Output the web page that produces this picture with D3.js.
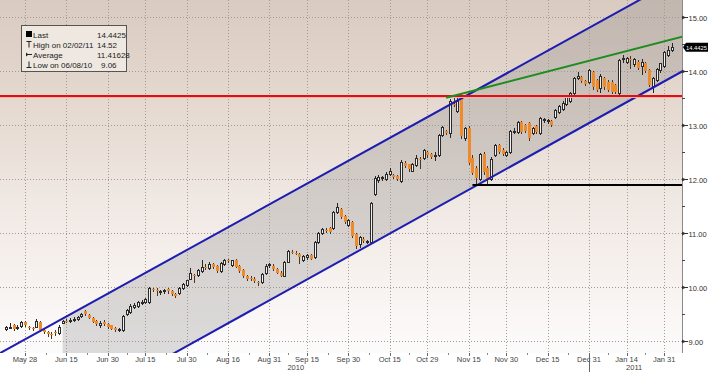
<!DOCTYPE html>
<html><head><meta charset="utf-8">
<script src="https://cdn.jsdelivr.net/npm/d3@7"></script>
<style>
body{margin:0;background:#fff;}
svg{display:block;font-family:"Liberation Sans",Arial,sans-serif;}
</style>
</head><body>
<svg id="c" width="708" height="372"></svg>
<script>
// ---------------- DATA ----------------
const startDate = "2010-05-21";
const holidays = ["2010-05-31","2010-07-05","2010-09-06","2010-11-25","2010-12-24","2011-01-17"];

const openP = [
9.22,9.25,9.30,9.24,9.28,9.36,9.27,9.24,9.27,9.36,
9.21,9.17,9.14,9.17,9.15,9.34,9.38,9.37,9.41,
9.41,9.46,9.55,9.49,9.42,9.38,9.30,9.36,9.31,9.29,
9.24,9.21,9.20,9.50,9.54,9.64,9.66,9.70,9.72,9.72,
9.96,9.95,9.92,9.93,9.96,9.92,9.88,9.90,9.99,
10.04,10.16,10.22,10.23,10.30,10.38,10.36,10.43,10.40,10.30,
10.43,10.50,10.41,10.50,10.40,10.31,10.21,10.17,10.16,10.09,
10.10,10.27,10.41,10.40,10.33,10.27,10.21,10.47,10.66,10.64,
10.62,10.50,10.55,10.60,10.56,10.84,11.00,11.06,11.10,
11.10,11.40,11.45,11.32,11.16,11.20,10.98,10.80,10.90,10.85,
10.83,11.72,11.98,12.02,12.00,12.10,12.08,12.06,11.96,12.30,
12.28,12.16,12.27,12.38,12.40,12.50,12.46,12.44,12.45,
12.82,12.90,12.86,13.40,13.26,13.55,12.76,12.95,12.40,12.20,
12.00,12.46,12.20,12.00,12.45,12.64,12.55,12.45,12.50,12.88,
12.88,13.06,13.00,13.04,12.85,12.98,12.85,13.10,13.08,13.08,
13.15,13.25,13.30,13.40,13.45,13.60,13.88,13.90,13.82,
13.81,13.99,13.84,13.69,13.87,13.81,13.81,13.75,13.60,14.22,
14.18,14.22,14.14,14.18,14.10,14.15,14.02,13.72,13.84,
14.02,14.09,14.30,14.40];

const highP = [
9.28,9.34,9.31,9.30,9.38,9.38,9.28,9.26,9.41,9.38,
9.23,9.19,9.17,9.20,9.29,9.40,9.41,9.42,9.44,
9.46,9.53,9.57,9.50,9.44,9.39,9.37,9.39,9.33,9.30,
9.26,9.25,9.48,9.60,9.68,9.70,9.74,9.76,9.80,10.00,
9.99,9.98,9.95,9.97,9.98,9.94,9.90,10.01,10.07,
10.14,10.35,10.24,10.34,10.50,10.42,10.46,10.45,10.41,10.46,
10.52,10.53,10.51,10.52,10.41,10.33,10.23,10.20,10.18,10.11,
10.26,10.42,10.45,10.42,10.35,10.29,10.48,10.69,10.69,10.67,
10.63,10.59,10.62,10.62,10.85,11.02,11.10,11.10,11.12,
11.42,11.55,11.47,11.34,11.26,11.22,11.00,10.95,10.92,10.88,
11.58,12.05,12.08,12.06,12.14,12.20,12.10,12.08,12.36,12.33,
12.29,12.30,12.44,12.42,12.56,12.52,12.48,12.50,12.84,
12.98,12.92,13.48,13.52,13.58,13.60,12.97,12.98,12.44,12.24,
12.49,12.50,12.24,12.42,12.66,12.66,12.57,12.52,12.92,12.94,
13.08,13.08,13.02,13.06,12.97,13.00,13.16,13.14,13.12,13.10,
13.30,13.38,13.44,13.54,13.62,13.90,13.99,13.91,13.84,
14.04,14.00,13.86,13.94,13.90,13.83,13.83,13.77,14.22,14.30,
14.26,14.28,14.25,14.20,14.22,14.18,14.04,13.90,14.06,
14.16,14.37,14.46,14.52];

const lowP = [
9.20,9.24,9.20,9.22,9.27,9.28,9.22,9.21,9.26,9.18,
9.15,9.10,9.06,9.12,9.13,9.33,9.35,9.36,9.38,
9.40,9.45,9.49,9.42,9.35,9.30,9.27,9.30,9.25,9.22,
9.18,9.18,9.18,9.48,9.52,9.62,9.64,9.68,9.70,9.70,
9.93,9.85,9.88,9.90,9.90,9.86,9.82,9.88,9.97,
10.02,10.15,10.10,10.21,10.28,10.33,10.34,10.36,10.28,10.28,
10.41,10.47,10.39,10.37,10.28,10.19,10.14,10.13,10.10,10.04,
10.08,10.25,10.38,10.32,10.26,10.20,10.20,10.46,10.63,10.61,
10.44,10.48,10.53,10.52,10.54,10.82,10.98,11.02,11.00,
11.08,11.38,11.28,11.18,11.14,10.92,10.72,10.74,10.84,10.82,
10.81,11.70,11.95,11.98,11.98,12.08,12.02,11.98,11.94,12.23,
12.16,12.15,12.25,12.20,12.38,12.42,12.40,12.36,12.43,
12.80,12.83,12.78,13.36,13.24,12.76,12.72,12.28,12.10,11.90,
11.98,12.10,11.90,11.98,12.43,12.48,12.44,12.43,12.48,12.85,
12.86,12.86,12.88,12.72,12.83,12.86,12.83,13.06,13.04,12.98,
13.13,13.23,13.28,13.38,13.43,13.58,13.85,13.80,13.74,
13.79,13.68,13.64,13.62,13.68,13.64,13.60,13.59,13.58,14.18,
14.16,14.06,14.10,14.04,13.95,13.98,13.73,13.62,13.82,
13.98,14.07,14.28,14.38];

const closeP = [
9.26,9.27,9.22,9.27,9.36,9.29,9.25,9.23,9.38,9.20,
9.17,9.14,9.12,9.15,9.27,9.38,9.37,9.40,9.41,
9.45,9.51,9.50,9.43,9.36,9.32,9.33,9.32,9.27,9.23,
9.20,9.22,9.46,9.58,9.66,9.67,9.72,9.73,9.78,9.98,
9.95,9.92,9.93,9.95,9.92,9.88,9.84,9.99,10.05,
10.13,10.26,10.20,10.32,10.38,10.37,10.43,10.38,10.30,10.45,
10.50,10.49,10.50,10.38,10.30,10.21,10.16,10.15,10.12,10.07,
10.24,10.40,10.42,10.33,10.27,10.21,10.47,10.67,10.65,10.63,
10.55,10.58,10.60,10.53,10.84,11.00,11.08,11.05,11.02,
11.40,11.48,11.30,11.20,11.24,10.94,10.76,10.93,10.86,10.86,
11.55,12.03,12.04,12.04,12.10,12.16,12.04,12.00,12.32,12.25,
12.18,12.28,12.40,12.36,12.54,12.45,12.42,12.45,12.82,
12.96,12.85,13.45,13.38,13.44,12.80,12.94,12.30,12.12,12.02,
12.46,12.14,11.98,12.38,12.64,12.50,12.46,12.50,12.90,12.90,
13.06,12.88,12.90,12.76,12.95,12.88,13.14,13.11,13.09,13.00,
13.28,13.36,13.42,13.52,13.60,13.88,13.92,13.82,13.76,
14.02,13.70,13.66,13.92,13.70,13.66,13.62,13.61,14.20,14.24,
14.24,14.20,14.22,14.06,14.18,14.00,13.75,13.88,14.04,
14.15,14.36,14.40,14.4425];

const xTickDates  = ["2010-05-28","2010-06-15","2010-06-30","2010-07-15","2010-07-30","2010-08-16","2010-08-31","2010-09-15","2010-09-30","2010-10-15","2010-10-29","2010-11-15","2010-11-30","2010-12-15","2010-12-31","2011-01-14","2011-01-31"];
const xTickLabels = ["May 28","Jun 15","Jun 30","Jul 15","Jul 30","Aug 16","Aug 31","Sep 15","Sep 30","Oct 15","Oct 29","Nov 15","Nov 30","Dec 15","Dec 31","Jan 14","Jan 31"];
const yearLabels = ["2010","2011"];
const yearLabelDates = ["2010-09-10","2011-01-19"];
const yearBreakDate = "2010-12-31";
const yTicks = [9,10,11,12,13,14,15];
const yMinorTicks = [9.5,10.5,11.5,12.5,13.5,14.5];

// trend lines (date, value)
const upperChannel = [["2010-05-21",8.84],["2011-02-02",15.65]];
const lowerChannel = [["2010-07-27",8.79],["2011-02-02",13.89]];
const channelStart = "2010-06-14";
const greenTrend = [["2010-11-05",13.51],["2011-02-02",14.59]];
const redLevel = 13.55;
const supportLevel = 11.90, supportStart = "2010-11-16";

const legendLabels = ["Last","High on 02/02/11","Average","Low on 06/08/10"];
const legendValues = ["14.4425","14.52","11.41628","9.06"];
const lastValue = 14.4425, lastLabel = "14.4425";

// ---------------- CALENDAR ----------------
function buildCalendar(from, to){
  const out=[]; const d=new Date(from+"T00:00:00Z"); const end=new Date(to+"T00:00:00Z");
  while(d<=end){ const w=d.getUTCDay(); const s=d.toISOString().slice(0,10);
    if(w!==0&&w!==6&&!holidays.includes(s)) out.push(s); d.setUTCDate(d.getUTCDate()+1);}
  return out;
}
const cal = buildCalendar("2010-05-01","2011-02-28");
const base = cal.indexOf("2010-05-28");
const tOf = s => cal.indexOf(s) - base;
const firstT = tOf(startDate);
const n = Math.min(openP.length, highP.length, lowP.length, closeP.length);
const candles = d3.range(n).map(k=>({t:firstT+k,o:openP[k],h:highP[k],l:lowP[k],c:closeP[k]}));

// ---------------- SCALES ----------------
const PR = 682, PB = 353;
const x = d3.scaleLinear().domain([-25/3.76, (PR-25)/3.76]).range([0, PR]);
const y = d3.scaleLinear().domain([8.78, 15.32]).range([PB, 0]);
const [t0, t1] = x.domain();

const svg = d3.select("#c");
const defs = svg.append("defs");
const grad = defs.append("linearGradient").attr("id","bg").attr("x1",0).attr("y1",0).attr("x2",0).attr("y2",1);
[[0,"#dacbc1"],[0.3,"#e5d9d0"],[0.55,"#efe7e2"],[0.75,"#f6f0ed"],[1,"#fcfbfb"]]
  .forEach(([o,c])=>grad.append("stop").attr("offset",o).attr("stop-color",c));
defs.append("clipPath").attr("id","plot").append("rect").attr("x",0).attr("y",0).attr("width",PR).attr("height",PB);

svg.append("rect").attr("width",708).attr("height",372).attr("fill","#fff");
svg.append("rect").attr("x",0).attr("y",0).attr("width",PR).attr("height",PB).attr("fill","url(#bg)");

const plot = svg.append("g").attr("clip-path","url(#plot)");

function lineFn(pts){
  const ta=tOf(pts[0][0]), tb=tOf(pts[1][0]);
  const s=(pts[1][1]-pts[0][1])/(tb-ta);
  return t => pts[0][1] + s*(t-ta);
}
const up = lineFn(upperChannel), lo = lineFn(lowerChannel), gr = lineFn(greenTrend);

// channel fill
const cs = tOf(channelStart);
plot.append("path")
  .attr("d", d3.line()([[x(cs),y(up(cs))],[x(t1+1),y(up(t1+1))],[x(t1+1),y(lo(t1+1))],[x(cs),y(lo(cs))]]))
  .attr("fill","#7a7a7a").attr("fill-opacity",0.25);

// grid
const gridG = plot.append("g").attr("stroke","#a49a92").attr("stroke-width",1).attr("stroke-dasharray","1,2");
yTicks.forEach(v=>{ const yy=Math.round(y(v))+0.5;
  gridG.append("line").attr("x1",0).attr("x2",PR).attr("y1",yy).attr("y2",yy); });
xTickDates.forEach(s=>{ const xx=Math.round(x(tOf(s)))+0.5;
  gridG.append("line").attr("x1",xx).attr("x2",xx).attr("y1",0).attr("y2",PB); });

// candles
const cg = plot.append("g");
candles.forEach(d=>{
  const cx = Math.round(x(d.t));
  const upC = d.c >= d.o;
  cg.append("line").attr("x1",cx+0.5).attr("x2",cx+0.5)
    .attr("y1",Math.round(y(d.h))).attr("y2",Math.round(y(d.l))+1)
    .attr("stroke", upC ? "#262626" : "#4a3520").attr("stroke-width",1);
  const yt = Math.round(y(Math.max(d.o,d.c))), yb = Math.round(y(Math.min(d.o,d.c)));
  if(upC){
    cg.append("rect").attr("x",cx-0.5).attr("y",yt+0.5).attr("width",2).attr("height",Math.max(1,yb-yt))
      .attr("fill","#f3f1ef").attr("stroke","#2a2a2a").attr("stroke-width",1);
  } else {
    cg.append("rect").attr("x",cx-1).attr("y",yt).attr("width",3).attr("height",Math.max(1,yb-yt))
      .attr("fill","#ee8a2a");
  }
});

// trend lines
const tl = plot.append("g").attr("fill","none");
tl.append("line").attr("x1",x(t0-1)).attr("y1",y(up(t0-1))).attr("x2",x(t1+1)).attr("y2",y(up(t1+1)))
  .attr("stroke","#1d1db0").attr("stroke-width",2);
tl.append("line").attr("x1",x(t0-1)).attr("y1",y(lo(t0-1))).attr("x2",x(t1+1)).attr("y2",y(lo(t1+1)))
  .attr("stroke","#1d1db0").attr("stroke-width",2);
tl.append("line").attr("x1",0).attr("x2",PR).attr("y1",Math.round(y(redLevel))+1.5).attr("y2",Math.round(y(redLevel))+1.5)
  .attr("stroke","#f2b0b0").attr("stroke-width",1);
tl.append("line").attr("x1",0).attr("x2",PR).attr("y1",Math.round(y(redLevel))).attr("y2",Math.round(y(redLevel)))
  .attr("stroke","#e01010").attr("stroke-width",2);
const gs = tOf(greenTrend[0][0]);
tl.append("line").attr("x1",x(gs)).attr("y1",y(gr(gs))).attr("x2",x(t1+1)).attr("y2",y(gr(t1+1)))
  .attr("stroke","#1e8c1e").attr("stroke-width",2);
tl.append("line").attr("x1",x(tOf(supportStart))).attr("x2",PR)
  .attr("y1",Math.round(y(supportLevel))).attr("y2",Math.round(y(supportLevel)))
  .attr("stroke","#000").attr("stroke-width",2);

// right axis
const ax = svg.append("g");
ax.append("line").attr("x1",PR+0.5).attr("x2",PR+0.5).attr("y1",0).attr("y2",PB).attr("stroke","#8a8a8a");
yTicks.forEach(v=>{ const yy=Math.round(y(v))+0.5;
  ax.append("path").attr("d",`M${PR},${yy-2}L${PR+4},${yy}L${PR},${yy+2}Z`).attr("fill","#333");
  ax.append("line").attr("x1",PR).attr("x2",PR+6).attr("y1",yy).attr("y2",yy).attr("stroke","#333");
  ax.append("text").attr("x",PR+6.5).attr("y",yy+3).attr("font-size",7.5).attr("fill","#333").text(v.toFixed(2));
});
yMinorTicks.forEach(v=>{ const yy=Math.round(y(v))+0.5;
  ax.append("line").attr("x1",PR).attr("x2",PR+3).attr("y1",yy).attr("y2",yy).attr("stroke","#444"); });

// last price tag
const ly = y(lastValue);
ax.append("path").attr("d",`M${PR+1},${ly}L${PR+4},${ly-4.5}L708,${ly-4.5}L708,${ly+4.5}L${PR+4},${ly+4.5}Z`).attr("fill","#000");
ax.append("text").attr("x",PR+4).attr("y",ly+2.2).attr("font-size",5.8).attr("fill","#fff").text(lastLabel);

// bottom axis
const bx = svg.append("g");
const tickX = xTickDates.map(s=>x(tOf(s)));
tickX.forEach((xx,i)=>{
  const px = Math.round(xx)+0.5;
  bx.append("line").attr("x1",px).attr("x2",px).attr("y1",PB).attr("y2",PB+3).attr("stroke","#666");
  bx.append("text").attr("x",xx).attr("y",PB+8.5).attr("text-anchor","middle").attr("font-size",7.5).attr("fill","#444").text(xTickLabels[i]);
  if(i<tickX.length-1){ const m=Math.round((xx+tickX[i+1])/2)+0.5;
    bx.append("line").attr("x1",m).attr("x2",m).attr("y1",PB).attr("y2",PB+2).attr("stroke","#888"); }
});
yearLabels.forEach((l,i)=>{
  bx.append("text").attr("x",x(tOf(yearLabelDates[i]))).attr("y",PB+17).attr("text-anchor","middle")
    .attr("font-size",7.5).attr("fill","#444").text(l);
});
const yb = Math.round(x(tOf(yearBreakDate)))+0.5;
bx.append("line").attr("x1",yb).attr("x2",yb).attr("y1",PB).attr("y2",372).attr("stroke","#666");

// legend
const lg = svg.append("g");
lg.append("rect").attr("x",21.5).attr("y",25.5).attr("width",105).attr("height",46)
  .attr("fill","#eee8e1").attr("stroke","#555");
const rowY = [37.5,47.5,57.5,67.5];
legendLabels.forEach((l,i)=>{
  lg.append("text").attr("x",33).attr("y",rowY[i]).attr("font-size",8).attr("fill","#222").text(l);
  lg.append("text").attr("x", i===3 ? 101 : 97).attr("y",rowY[i]).attr("font-size",8).attr("fill","#222").text(legendValues[i]);
});
lg.append("rect").attr("x",26).attr("y",31).attr("width",6).attr("height",6).attr("fill","#000");
lg.append("path").attr("d","M26.5,41.5H31.5M29,41.5V47.5").attr("stroke","#222").attr("fill","none");
lg.append("path").attr("d","M26,54.5H32").attr("stroke","#222");
lg.append("path").attr("d","M26,52.5L28.5,54.5L26,56.5Z").attr("fill","#222");
lg.append("path").attr("d","M29,61.5V67M26.5,67.5H31.5").attr("stroke","#222").attr("fill","none");
</script>
</body></html>
